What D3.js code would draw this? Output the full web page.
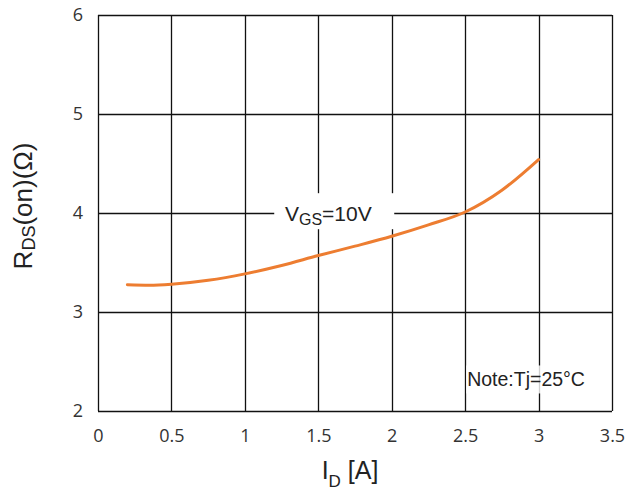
<!DOCTYPE html>
<html>
<head>
<meta charset="utf-8" />
<script src="https://cdn.jsdelivr.net/npm/d3@7"></script>
<style type="text/css">
	body{ margin:0; background:#fff; }
	svg text{ font-family: Arial, "Liberation Sans", sans-serif; fill:#222; }
	.tick text{ font-family: "Open Sans", sans-serif; font-size:18px; fill:#333; }
</style>
</head>
<body>
<svg id="chart" width="625" height="492"></svg>
<script type="text/javascript">
	// drain current ID [A]
	var currentA = [0.2, 0.35, 0.5, 0.75, 1.0, 1.25, 1.5, 1.75, 2.0, 2.25, 2.5, 2.75, 3.0];
	// RDS(on) [ohm] at VGS=10V
	var rdsOn = [3.275, 3.27, 3.28, 3.32, 3.385, 3.47, 3.57, 3.665, 3.765, 3.88, 4.01, 4.23, 4.54];
	var xTicks = [0, 0.5, 1, 1.5, 2, 2.5, 3, 3.5];
	var yTicks = [2, 3, 4, 5, 6];

	var m = {left:98, top:15, right:13, bottom:81};
	var W = 625 - m.left - m.right, H = 492 - m.top - m.bottom;

	var svg = d3.select('#chart');
	var g = svg.append('g').attr('transform', 'translate(' + m.left + ',' + m.top + ')');

	var x = d3.scaleLinear().domain([0, 3.5]).range([0, W]);
	var y = d3.scaleLinear().domain([2, 6]).range([H, 0]);

	// grid
	g.selectAll('line.vg').data(xTicks).enter().append('line')
		.attr('x1', function(d){ return Math.round(x(d)) + 0.5; })
		.attr('x2', function(d){ return Math.round(x(d)) + 0.5; })
		.attr('y1', 0).attr('y2', H)
		.attr('stroke', '#111').attr('stroke-width', 1.3);
	g.selectAll('line.hg').data(yTicks).enter().append('line')
		.attr('y1', function(d){ return Math.round(y(d)) + 0.5; })
		.attr('y2', function(d){ return Math.round(y(d)) + 0.5; })
		.attr('x1', 0).attr('x2', W)
		.attr('stroke', '#111').attr('stroke-width', 1.3);

	// axes (labels only)
	var xa = g.append('g').attr('transform', 'translate(0,' + H + ')')
		.call(d3.axisBottom(x).tickValues(xTicks).tickSize(0).tickPadding(18).tickFormat(d3.format('')));
	xa.select('.domain').remove();
	var ya = g.append('g')
		.call(d3.axisLeft(y).tickValues(yTicks).tickSize(0).tickPadding(15).tickFormat(d3.format('d')));
	ya.select('.domain').remove();

	// label boxes
	g.append('rect').attr('x', x(1.2)).attr('y', y(4.2)).attr('width', 120).attr('height', 36)
		.attr('fill', '#fff');
	g.append('rect').attr('x', x(2.5) + 1).attr('y', y(2.46)).attr('width', 126).attr('height', 28)
		.attr('fill', '#fff').attr('opacity', 0.8);

	// curve
	var line = d3.line()
		.x(function(d, i){ return x(currentA[i]); })
		.y(function(d){ return y(d); })
		.curve(d3.curveMonotoneX);
	g.append('path').datum(rdsOn)
		.attr('d', line)
		.attr('fill', 'none')
		.attr('stroke', '#ED7D31')
		.attr('stroke-width', 3)
		.attr('stroke-linecap', 'round');

	// annotations
	var vgs = g.append('text').attr('x', x(1.28) - 1).attr('y', y(4) + 8).attr('font-size', 21);
	vgs.append('tspan').text('V');
	vgs.append('tspan').attr('font-size', 16).attr('dy', 4).text('GS');
	vgs.append('tspan').attr('dy', -4).text('=10V');

	g.append('text').attr('x', x(2.5) + 2).attr('y', y(2.28) + 3).attr('font-size', 19.5)
		.text('Note:Tj=25\u00b0C');

	// axis titles
	var yt = svg.append('text').attr('transform', 'translate(32,206) rotate(-90)')
		.attr('text-anchor', 'middle').attr('font-size', 26).attr('fill', '#333');
	yt.append('tspan').text('R');
	yt.append('tspan').attr('font-size', 18).attr('dy', 3).text('DS');
	yt.append('tspan').attr('dy', -3).text('(on)(\u03a9)');

	var xt = svg.append('text').attr('x', 350).attr('y', 479)
		.attr('text-anchor', 'middle').attr('font-size', 25).attr('fill', '#333');
	xt.append('tspan').text('I');
	xt.append('tspan').attr('font-size', 17).attr('dy', 8).text('D');
	xt.append('tspan').attr('dy', -8).text('  [A]');
</script>
</body>
</html>
